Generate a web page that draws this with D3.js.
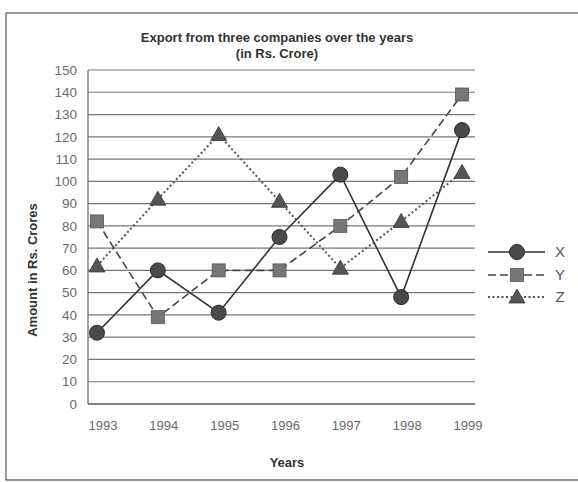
<!DOCTYPE html>
<html>
<head>
<meta charset="utf-8">
<script src="https://cdn.jsdelivr.net/npm/d3@7"></script>
<style>
  html, body { margin: 0; padding: 0; background: #fff; }
  svg { display: block; font-family: "Liberation Sans", Arial, sans-serif; }
</style>
</head>
<body>
<div id="chart"></div>
<script>
// values
const years = ["1993", "1994", "1995", "1996", "1997", "1998", "1999"];
const xValues = [32, 60, 41, 75, 103, 48, 123];
const yValues = [82, 39, 60, 60, 80, 102, 139];
const zValues = [62, 92, 121, 91, 61, 82, 104];
const yTicks = d3.range(0, 151, 10);

const width = 578;
const height = 482;

const series = [
  { name: "X", values: xValues, dash: null, stroke: "#333", width: 1.6, marker: "circle" },
  { name: "Y", values: yValues, dash: "8,4", stroke: "#444", width: 1.6, marker: "square" },
  { name: "Z", values: zValues, dash: "2,2.5", stroke: "#555", width: 2, marker: "triangle" }
];

const svg = d3.select("#chart").append("svg")
  .attr("width", width)
  .attr("height", height);

// scanned frame round the chart
svg.append("rect")
  .attr("x", 6).attr("y", 13)
  .attr("width", 600).attr("height", 467)
  .attr("fill", "none")
  .attr("stroke", "#555")
  .attr("stroke-width", 1.2);

const x = d3.scalePoint().domain(years).range([97, 462]);
const y = d3.scaleLinear().domain([0, 150]).range([404, 70]);
const plotLeft = 88, plotRight = 475;

// horizontal grid lines
svg.append("g")
  .selectAll("line")
  .data(yTicks)
  .join("line")
  .attr("x1", plotLeft).attr("x2", plotRight)
  .attr("y1", d => y(d)).attr("y2", d => y(d))
  .attr("stroke", d => d === 0 ? "#555" : "#777")
  .attr("stroke-width", d => d === 0 ? 1.6 : 1.2);

// left axis line
svg.append("line")
  .attr("x1", plotLeft).attr("x2", plotLeft)
  .attr("y1", y(150)).attr("y2", y(0))
  .attr("stroke", "#666").attr("stroke-width", 1.2);

// y tick labels
svg.append("g")
  .selectAll("text")
  .data(yTicks)
  .join("text")
  .attr("x", 77)
  .attr("y", d => y(d))
  .attr("dy", "0.35em")
  .attr("text-anchor", "end")
  .attr("font-size", 13.5)
  .attr("fill", "#6a6a6a")
  .text(d => d);

// year labels
svg.append("g")
  .selectAll("text")
  .data(years)
  .join("text")
  .attr("x", d => x(d) + 6)
  .attr("y", 425)
  .attr("dy", "0.35em")
  .attr("text-anchor", "middle")
  .attr("font-size", 13)
  .attr("fill", "#6a6a6a")
  .text(d => d);

// titles
svg.append("text")
  .attr("x", 277).attr("y", 42)
  .attr("text-anchor", "middle")
  .attr("font-size", 13).attr("font-weight", "bold")
  .attr("fill", "#333")
  .text("Export from three companies over the years");
svg.append("text")
  .attr("x", 277).attr("y", 58)
  .attr("text-anchor", "middle")
  .attr("font-size", 13).attr("font-weight", "bold")
  .attr("fill", "#333")
  .text("(in Rs. Crore)");

svg.append("text")
  .attr("transform", "translate(37,270) rotate(-90)")
  .attr("text-anchor", "middle")
  .attr("font-size", 13).attr("font-weight", "bold")
  .attr("fill", "#333")
  .text("Amount in Rs. Crores");

svg.append("text")
  .attr("x", 287).attr("y", 467)
  .attr("text-anchor", "middle")
  .attr("font-size", 13).attr("font-weight", "bold")
  .attr("fill", "#333")
  .text("Years");

function drawMarker(g, type) {
  if (type === "circle") {
    g.append("circle").attr("r", 7.5)
      .attr("fill", "#4a4a4a").attr("stroke", "#2a2a2a").attr("stroke-width", 1);
  } else if (type === "square") {
    g.append("rect").attr("x", -6.5).attr("y", -6.5)
      .attr("width", 13).attr("height", 13)
      .attr("fill", "#777").attr("stroke", "#555").attr("stroke-width", 0.8);
  } else {
    g.append("path").attr("d", "M0,-8L8,6L-8,6Z")
      .attr("fill", "#555").attr("stroke", "#333").attr("stroke-width", 0.8);
  }
}

const line = d3.line()
  .x((d, i) => x(years[i]))
  .y(d => y(d));

series.forEach(s => {
  svg.append("path")
    .attr("d", line(s.values))
    .attr("fill", "none")
    .attr("stroke", s.stroke)
    .attr("stroke-width", s.width)
    .attr("stroke-dasharray", s.dash);
  s.values.forEach((v, i) => {
    const g = svg.append("g").attr("transform", `translate(${x(years[i])},${y(v)})`);
    drawMarker(g, s.marker);
  });
});

// legend
const legendRows = [252, 275, 297];
series.forEach((s, i) => {
  const g = svg.append("g").attr("transform", `translate(0,${legendRows[i]})`);
  g.append("line")
    .attr("x1", 488).attr("x2", 545)
    .attr("stroke", s.stroke)
    .attr("stroke-width", s.width)
    .attr("stroke-dasharray", s.dash);
  const m = g.append("g").attr("transform", "translate(517,0)");
  drawMarker(m, s.marker);
  g.append("text")
    .attr("x", 560).attr("dy", "0.35em")
    .attr("text-anchor", "middle")
    .attr("font-size", 15)
    .attr("fill", "#555")
    .text(s.name);
});
</script>
</body>
</html>
